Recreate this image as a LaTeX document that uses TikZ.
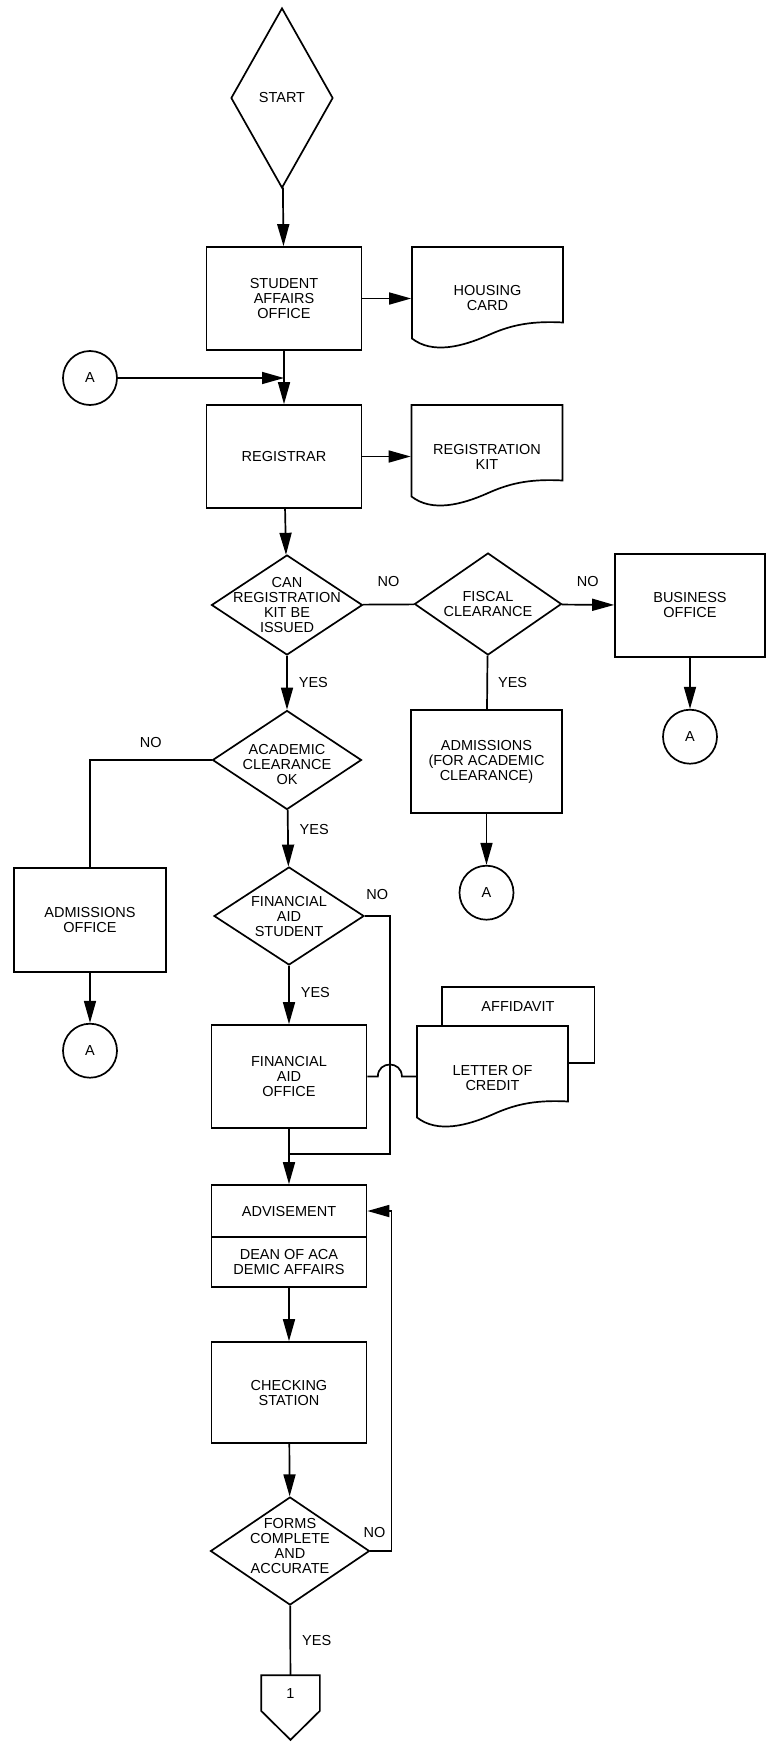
\documentclass[tikz,border=0pt]{standalone}
\usepackage{fontspec}
\setmainfont{Liberation Sans}
\usetikzlibrary{arrows.meta, positioning, calc, shapes.geometric, backgrounds}
\newcommand{\docshape}[1]{%
  \draw[line width=1.7pt, fill=white] ($(#1.center)+(-75.5,-51.5)$) -- ($(#1.center)+(75.5,-51.5)$)
    -- ($(#1.center)+(75.5,24)$)
    .. controls ($(#1.center)+(40,22)$) and ($(#1.center)+(20,28)$) .. ($(#1.center)+(0,37)$)
    .. controls ($(#1.center)+(-25,48)$) and ($(#1.center)+(-55,56)$) .. ($(#1.center)+(-75.5,40)$)
    -- cycle;}

\begin{document}
\begin{tikzpicture}[x=1pt, y=-1pt, line width=1.7pt,
    font=\fontsize{14.5}{15}\selectfont,
    box/.style={draw, minimum width=155pt, minimum height=103pt,
                inner sep=0pt, align=center},
    doc/.style={minimum width=151pt, minimum height=103pt,
                inner sep=0pt, align=center},
    dia/.style={draw, diamond, inner sep=0pt},
    txt/.style={inner sep=0pt, align=center},
    conn/.style={draw, circle, minimum size=54pt, inner sep=0pt},
    lab/.style={inner sep=0pt},
    arr/.style={-{Triangle[length=22pt, width=12pt]}}]
  \useasboundingbox (0,0) rectangle (767,1750);

  \node[dia, minimum width=102pt, minimum height=180pt] (start) at (282,98) {};
  \node[txt] (startt) at (start) {START};
  \node[box] (sao) at (284,298.5) {STUDENT\\AFFAIRS\\OFFICE};
  \node[box] (reg) at (284,456.5) {REGISTRAR};
  \node[dia, minimum width=151pt, minimum height=100pt] (can) at (287,605) {};
  \node[txt] (cant) at (can) {CAN\\REGISTRATION\\KIT BE\\ISSUED};
  \node[dia, minimum width=149pt, minimum height=99pt] (acad) at (287,760) {};
  \node[txt] (acadt) at ($(acad)+(0,4)$) {ACADEMIC\\CLEARANCE\\OK};
  \node[dia, minimum width=150pt, minimum height=98pt] (fas) at (289,916) {};
  \node[txt] (fast) at (fas) {FINANCIAL\\AID\\STUDENT};
  \node[box] (fao) at (289,1076.5) {FINANCIAL\\AID\\OFFICE};
  \node[box, minimum height=52pt] (adv) at (289,1211) {ADVISEMENT};
  \node[box, minimum height=50pt] (dean) at (289,1262) {DEAN OF ACA\\DEMIC AFFAIRS};
  \node[box, minimum height=101pt] (chk) at (289,1392.5) {CHECKING\\STATION};
  \node[dia, minimum width=159pt, minimum height=108pt] (frm) at (290,1551) {};
  \node[txt] (frmt) at ($(frm)+(0,-5)$) {FORMS\\COMPLETE\\AND\\ACCURATE};
  \node[minimum width=57pt, minimum height=34pt, inner sep=0pt] (one) at (290.5,1693) {1};
  \draw (one.south west) -- (one.north west) -- (one.north east)
    -- (one.south east) -- ($(one.south)+(0,29)$) -- cycle;

  \node[doc] (hc) at (487.5,298.5) {HOUSING\\CARD};
  \node[doc] (kit) at (487,456.5) {REGISTRATION\\KIT};
  \node[dia, minimum width=147pt, minimum height=102pt] (fis) at (488,604) {};
  \node[txt] (fist) at (fis) {FISCAL\\CLEARANCE};
  \node[box, minimum width=151pt] (adm) at (486.5,761.5) {ADMISSIONS\\(FOR ACADEMIC\\CLEARANCE)};
  \node[conn, below=51pt of adm] (a3) {A};
  \node[box, minimum width=150pt] (bus) at (690,605.5) {BUSINESS\\OFFICE};
  \node[conn, below=51pt of bus] (a2) {A};
  \node[box, minimum width=152pt, minimum height=104pt] (admo) at (90,920) {ADMISSIONS\\OFFICE};
  \node[conn, below=50pt of admo] (a4) {A};
  \node[conn] (a1) at (90,378) {A};
  \node[doc] (lc) at (492.5,1077.5) {LETTER OF\\CREDIT};
  \node[minimum width=151pt, minimum height=38pt, inner sep=0pt] (aff) at (518,1007) {AFFIDAVIT};

  \begin{scope}[on background layer]
    \draw[line width=1.7pt, fill=white] (aff.north west) rectangle ($(aff.north east)+(0,76)$);
    \foreach \d in {hc,kit,lc}{\docshape{\d}}
  \end{scope}

  \foreach \a/\b in {start/sao, sao/reg, reg/can, dean/chk, chk/frm, sao/hc, reg/kit,
                     bus/a2, adm/a3, admo/a4, fao/adv}{%
    \draw[arr] (\a) -- (\b);}
  \coordinate (meet) at (sao.south |- a1.east);
  \draw[arr] (a1) -- (meet);
  \draw (can) -- node[lab, above=17pt] (no1) {NO} (fis);
  \draw[arr] (fis) -- node[lab, above=17pt] (no2) {NO} (bus);
  \draw (fis) -- node[lab, right=10pt] (yes2) {YES} (adm);
  \draw[arr] (can) -- node[lab, right=11pt] (yes1) {YES} (acad);
  \draw (acad.west) -| node[lab, pos=0.25, above=12pt] (no3) {NO} (admo.north);
  \draw[arr] (acad) -- node[lab, pos=0.35, right=11pt] (yes3) {YES} (fas);
  \draw[arr] (fas) -- node[lab, pos=0.45, right=11pt] (yes4) {YES} (fao);
  \coordinate (fasturn) at ($(fas.east)+(25,0)$);
  \coordinate (merge) at ($(fao.south)+(0,25)$);
  \draw (fas.east) -- node[lab, above=16pt] (no4) {NO} (fasturn) |- (merge);
  \coordinate (hop) at (fao.east -| fasturn);
  \draw (fao.east) -- ($(hop)+(-12,0)$)
    .. controls ($(hop)+(-12,-16)$) and ($(hop)+(12,-16)$) .. ($(hop)+(12,0)$)
    -- (lc.west |- hop);
  \draw (frm) -- node[lab, right=11pt] (yes5) {YES} (one);
  \draw[arr] (frm.east) -- node[lab, pos=0.2, above=13pt] (no5) {NO} ++(21,0) |- (adv.east);
\end{tikzpicture}
\end{document}
